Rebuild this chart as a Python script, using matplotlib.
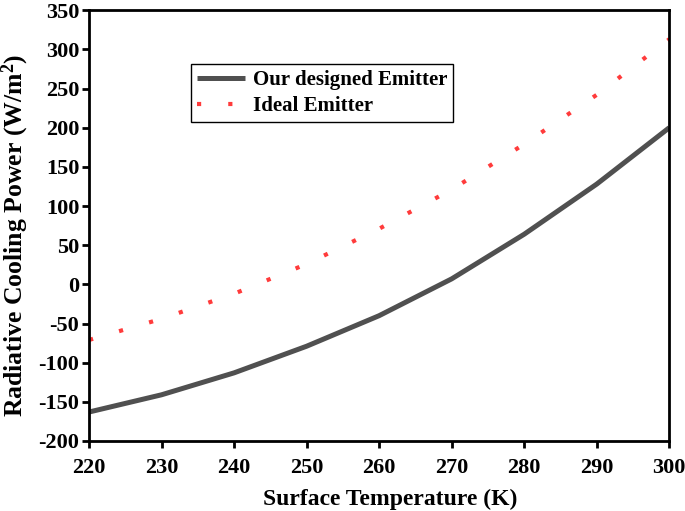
import matplotlib
matplotlib.use("Agg")
import matplotlib.pyplot as plt

temperature = [220, 230, 240, 250, 260, 270, 280, 290, 300]
designed_emitter = [-163, -141, -113, -79, -40, 7, 64, 128, 200]
ideal_emitter = [-71, -44, -12, 26, 71, 121, 179, 242, 313]

x_ticks = [220, 230, 240, 250, 260, 270, 280, 290, 300]
y_ticks = [-200, -150, -100, -50, 0, 50, 100, 150, 200, 250, 300, 350]

plt.rcParams['font.family'] = ['Liberation Serif', 'DejaVu Serif']
plt.rcParams['font.weight'] = 'bold'
plt.rcParams['axes.unicode_minus'] = False
plt.rcParams['mathtext.fontset'] = 'custom'
plt.rcParams['mathtext.rm'] = 'Liberation Serif:bold'
plt.rcParams['mathtext.it'] = 'Liberation Serif:bold'
plt.rcParams['mathtext.bf'] = 'Liberation Serif:bold'

fig = plt.figure(figsize=(6.85, 5.11), dpi=100)
ax = fig.add_axes([0.130, 0.137, 0.847, 0.843])

ax.plot(temperature, designed_emitter, color='#505050', lw=3.6,
        label='Our designed Emitter', solid_capstyle='butt')
ax.plot(temperature, ideal_emitter, color='#ff3b3b', lw=3.0,
        linestyle=(0, (1, 6.5)), label='Ideal Emitter', dash_capstyle='butt')

ax.set_xlim(220, 300)
ax.set_ylim(-200, 350)
ax.set_xticks(x_ticks)
ax.set_yticks(y_ticks)
ax.tick_params(axis='both', which='major', direction='out', length=5, width=2,
               labelsize=16, top=False, right=False)
ax.tick_params(axis='y', pad=2)
ax.tick_params(axis='x', pad=7)
for lbl in ax.get_xticklabels() + ax.get_yticklabels():
    lbl.set_fontweight('bold')
for s in ax.spines.values():
    s.set_linewidth(2)

ax.set_xlabel('Surface Temperature (K)', fontsize=17, fontweight='bold')
ax.set_ylabel('Radiative Cooling Power (W/m$^{2}$)', fontsize=18.5, fontweight='bold')
ax.xaxis.set_label_coords(0.519, -0.112)
ax.yaxis.set_label_coords(-0.100, 0.478)

leg = ax.legend(loc='upper left', bbox_to_anchor=(0.158, 0.900),
                frameon=True, fancybox=False, framealpha=1, edgecolor='black',
                handlelength=2.3, borderpad=0.3, labelspacing=0.3, handletextpad=0.35,
                prop={'weight': 'bold', 'size': 15})
leg.get_frame().set_linewidth(1.0)

fig.savefig('out.png', dpi=100)
